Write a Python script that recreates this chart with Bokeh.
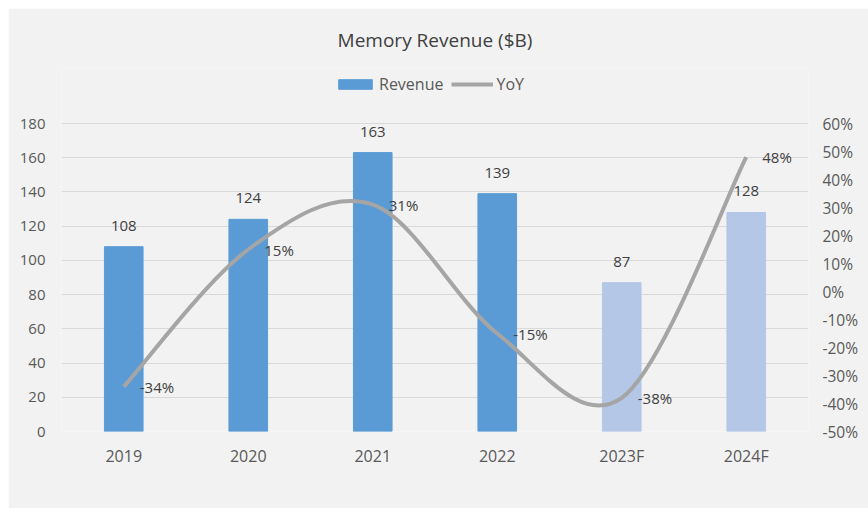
from bokeh.plotting import figure
from bokeh.models import (ColumnDataSource, Range1d, FactorRange, LinearAxis, FixedTicker,
                          NumeralTickFormatter, Legend, LegendItem)
from bokeh.embed import file_html
from bokeh.resources import INLINE
from bokeh.core.properties import value

years = ["2019", "2020", "2021", "2022", "2023F", "2024F"]
revenue = [108, 124, 163, 139, 87, 128]
yoy = [-0.34, 0.15, 0.31, -0.15, -0.38, 0.48]
yoy_labels = ["-34%", "15%", "31%", "-15%", "-38%", "48%"]
is_forecast = [False, False, False, False, True, True]
left_ticks = [0, 20, 40, 60, 80, 100, 120, 140, 160, 180]
right_ticks = [-0.5, -0.4, -0.3, -0.2, -0.1, 0.0, 0.1, 0.2, 0.3, 0.4, 0.5, 0.6]

FONT = "Open Sans"
BG = "#f2f2f2"
ACTUAL = "#5B9BD5"
FORECAST = "#B4C7E7"
LINE = "#A5A5A5"

# geometry: the frame reaches up into the legend band; axes span the lower part
W, H = 860, 500
B_LEFT, B_RIGHT, B_TOP, B_BOTTOM = 53, 60, 60, 77
FRAME_H = H - B_TOP - B_BOTTOM
AXIS_PX = 308
L_MIN, L_MAX = left_ticks[0], left_ticks[-1]
R_MIN, R_MAX = right_ticks[0], right_ticks[-1]
l_top = L_MIN + (L_MAX - L_MIN) * FRAME_H / AXIS_PX
r_top = R_MIN + (R_MAX - R_MIN) * FRAME_H / AXIS_PX

colors = [FORECAST if f else ACTUAL for f in is_forecast]
bar_src = ColumnDataSource(dict(x=years, top=revenue, color=colors,
                                label=[str(v) for v in revenue]))

p = figure(width=W, height=H, x_range=FactorRange(factors=years),
           y_range=Range1d(L_MIN, l_top), output_backend="svg", toolbar_location=None,
           background_fill_color=BG, border_fill_color=BG,
           min_border_left=B_LEFT, min_border_right=B_RIGHT, min_border_bottom=B_BOTTOM,
           min_border_top=B_TOP, margin=(8, 0, 0, 8))
p.outline_line_color = None
p.extra_y_ranges = {"yoy": Range1d(R_MIN, r_top)}

p.title.text = "Memory Revenue ($B)"
p.title.align = "center"
p.title.text_font = FONT
p.title.text_font_size = "19px"
p.title.text_font_style = "normal"
p.title.text_color = "#404040"
p.title.standoff = 32

bars = p.vbar(x="x", top="top", width=0.31, color="color", source=bar_src)
p.text(x="x", y="top", text="label", source=bar_src, text_align="center",
       text_baseline="middle", y_offset=-21, text_font=value(FONT),
       text_font_size="15px", text_color="#404040")

# smoothed YoY line (cubic Bezier segments through the data points)
n = len(years)
xs = [i + 0.5 for i in range(n)]
seg = dict(x0=[], y0=[], x1=[], y1=[], cx0=[], cy0=[], cx1=[], cy1=[])
for i in range(n - 1):
    a = max(i - 1, 0)
    d = min(i + 2, n - 1)
    seg["x0"].append(xs[i]); seg["y0"].append(yoy[i])
    seg["x1"].append(xs[i + 1]); seg["y1"].append(yoy[i + 1])
    seg["cx0"].append(xs[i] + (xs[i + 1] - xs[a]) / 6)
    seg["cy0"].append(yoy[i] + (yoy[i + 1] - yoy[a]) / 6)
    seg["cx1"].append(xs[i + 1] - (xs[d] - xs[i]) / 6)
    seg["cy1"].append(yoy[i + 1] - (yoy[d] - yoy[i]) / 6)
line = p.bezier(x0="x0", y0="y0", x1="x1", y1="y1", cx0="cx0", cy0="cy0",
                cx1="cx1", cy1="cy1", source=ColumnDataSource(seg),
                line_color=LINE, line_width=4, y_range_name="yoy")

yoy_src = ColumnDataSource(dict(x=years, y=yoy, label=yoy_labels))
p.text(x="x", y="y", text="label", source=yoy_src, y_range_name="yoy",
       text_align="left", text_baseline="middle", x_offset=16,
       text_font=value(FONT), text_font_size="15px", text_color="#404040")

# axes
p.xaxis.axis_line_color = None
p.xaxis.major_tick_line_color = None
p.xaxis.major_tick_out = 0
p.xaxis.major_label_standoff = 13
p.xaxis.major_label_text_font = FONT
p.xaxis.major_label_text_font_size = "16px"
p.xaxis.major_label_text_color = "#595959"

p.yaxis.ticker = FixedTicker(ticks=left_ticks)
p.yaxis.axis_line_color = None
p.yaxis.major_tick_line_color = None
p.yaxis.minor_tick_line_color = None
p.yaxis.major_tick_out = 0
p.yaxis.major_label_standoff = 16
p.yaxis.major_label_text_font = FONT
p.yaxis.major_label_text_font_size = "15px"
p.yaxis.major_label_text_color = "#595959"

right = LinearAxis(y_range_name="yoy", ticker=FixedTicker(ticks=right_ticks),
                   formatter=NumeralTickFormatter(format="0%"))
right.axis_line_color = None
right.major_tick_line_color = None
right.minor_tick_line_color = None
right.major_tick_out = 0
right.major_label_standoff = 14
right.major_label_text_font = FONT
right.major_label_text_font_size = "15.5px"
right.major_label_text_color = "#595959"
p.add_layout(right, "right")

p.xgrid.grid_line_color = None
p.ygrid.grid_line_color = "#D9D9D9"
p.ygrid.ticker = FixedTicker(ticks=left_ticks)

legend = Legend(items=[LegendItem(label="Revenue", renderers=[bars], index=0),
                       LegendItem(label="YoY", renderers=[line])],
                orientation="horizontal", location=(273, 336),
                glyph_width=42, glyph_height=12, label_standoff=3, spacing=8,
                padding=0, margin=0, border_line_color=None,
                background_fill_alpha=0, label_text_font=FONT,
                label_text_font_size="16px", label_text_color="#595959")
p.add_layout(legend, "center")

open("out.html", "w").write(file_html(p, INLINE))
